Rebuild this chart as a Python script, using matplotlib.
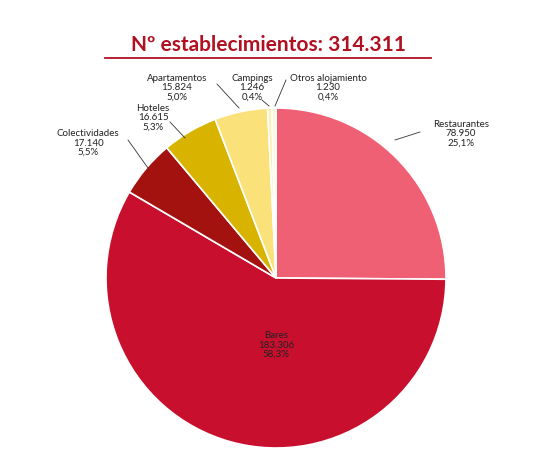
import matplotlib.pyplot as plt

categories = ["Restaurantes", "Bares", "Colectividades", "Hoteles", "Apartamentos", "Campings", "Otros alojamiento"]
values = [78950, 183306, 17140, 16615, 15824, 1246, 1230]
value_labels = ["78.950", "183.306", "17.140", "16.615", "15.824", "1.246", "1.230"]
pct_labels = ["25,1%", "58,3%", "5,5%", "5,3%", "5,0%", "0,4%", "0,4%"]
colors = ["#F06075", "#C8102E", "#A3120F", "#D8B400", "#FAE17A", "#FCEFB0", "#FFF6D5"]

plt.rcParams['font.family'] = ['Lato', 'DejaVu Sans']
fig = plt.figure(figsize=(5.36, 4.51), dpi=100)
ax = fig.add_axes([0, 0, 1, 1])
cx, cy, R = 276, 278, 170

ax.pie(values, colors=colors, startangle=90, counterclock=False, radius=1,
       wedgeprops=dict(edgecolor='white', linewidth=1.2))
ax.set_aspect('auto')
ax.set_xlim(-cx / R, (536 - cx) / R)
ax.set_ylim(-(451 - cy) / R, cy / R)
ax.axis('off')

def P(px, py):
    return ((px - cx) / R, (cy - py) / R)

lab = [
    (461, 134, 'center', (395, 140), (420, 132)),
    (276, 345, 'center', None, None),
    (88, 143, 'center', (148, 168), (128, 140)),
    (153, 118, 'center', (185, 138), (170, 122)),
    (177, 88, 'center', (239, 108), (217, 84)),
    (252, 88, 'center', (269, 106), (262, 100)),
    (328, 88, 'center', (275, 106), (286, 80)),
]
for i, (px, py, ha, p1, p2) in enumerate(lab):
    x, y = P(px, py)
    ax.text(x, y, f"{categories[i]}\n{value_labels[i]}\n{pct_labels[i]}",
            ha=ha, va='center', fontsize=7, color='#222222', linespacing=1.05)
    if p1 is not None:
        a, b = P(*p1); c, d = P(*p2)
        ax.plot([a, c], [b, d], color='#333333', lw=0.6)

tx, ty = P(268, 45)
ax.text(tx, ty, "Nº establecimientos: 314.311", ha='center', va='center',
        fontsize=15, fontweight='bold', color='#B01020')
ux1, uy = P(105, 58); ux2, _ = P(431, 58)
ax.plot([ux1, ux2], [uy, uy], color='#B01020', lw=1.3)

fig.savefig("out.png", dpi=100)
